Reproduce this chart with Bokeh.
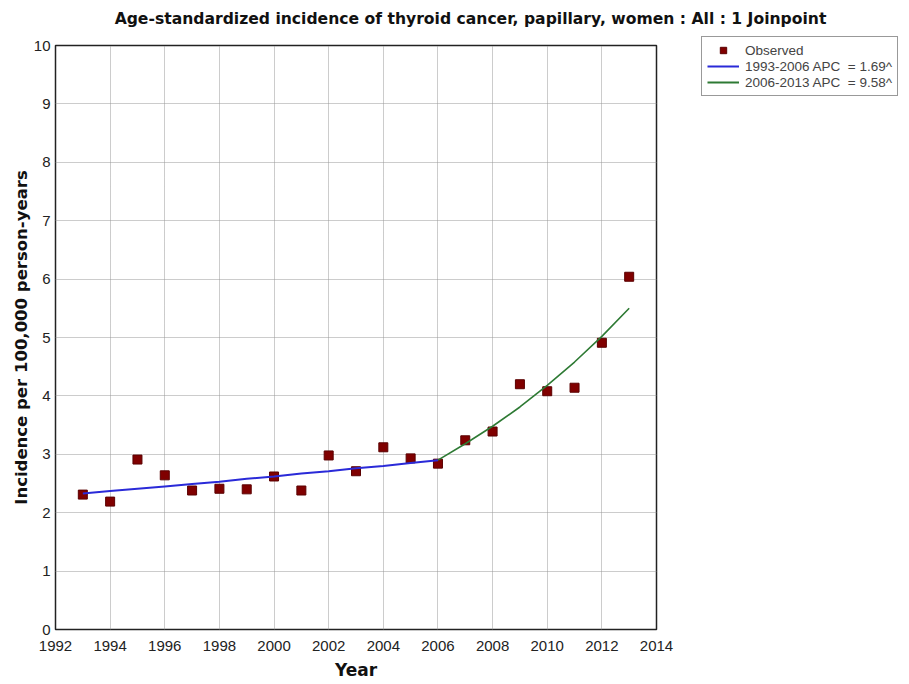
from bokeh.plotting import figure
from bokeh.models import Range1d, FixedTicker, Legend, LegendItem, Label
from bokeh.layouts import column, row
from bokeh.embed import file_html
from bokeh.resources import INLINE

years = [1993, 1994, 1995, 1996, 1997, 1998, 1999, 2000, 2001, 2002, 2003,
         2004, 2005, 2006, 2007, 2008, 2009, 2010, 2011, 2012, 2013]
observed = [2.31, 2.19, 2.91, 2.64, 2.38, 2.41, 2.40, 2.62, 2.38, 2.98, 2.71,
            3.12, 2.93, 2.84, 3.24, 3.39, 4.20, 4.08, 4.14, 4.91, 6.04]

seg1_years = [1993, 1994, 1995, 1996, 1997, 1998, 1999, 2000, 2001, 2002, 2003, 2004, 2005, 2006]
seg1_fit = [2.33, 2.37, 2.41, 2.45, 2.49, 2.53, 2.58, 2.62, 2.67, 2.71, 2.76, 2.80, 2.85, 2.90]
seg2_years = [2006, 2007, 2008, 2009, 2010, 2011, 2012, 2013]
seg2_fit = [2.90, 3.18, 3.48, 3.81, 4.18, 4.58, 5.02, 5.50]

x_ticks = [1992, 1994, 1996, 1998, 2000, 2002, 2004, 2006, 2008, 2010, 2012, 2014]
y_ticks = [0, 1, 2, 3, 4, 5, 6, 7, 8, 9, 10]

legend_labels = ["Observed", "1993-2006 APC  = 1.69^", "2006-2013 APC  = 9.58^"]
title_text = "Age-standardized incidence of thyroid cancer, papillary, women : All : 1 Joinpoint"

OBS_FILL, OBS_LINE = "#800000", "#5a0000"
SEG1_COLOR, SEG2_COLOR = "#2a2ad8", "#2e7a34"

# ---- title strip ----
TW, TH = 905, 28
tfig = figure(width=TW, height=TH, output_backend="svg", toolbar_location=None,
              x_range=Range1d(0, 1), y_range=Range1d(0, 1),
              x_axis_location=None, y_axis_location=None,
              min_border_left=0, min_border_right=0, min_border_top=0, min_border_bottom=0)
tfig.grid.visible = False
tfig.outline_line_color = None
tfig.add_layout(Label(x=470, y=10, x_units="screen", y_units="screen", text=title_text,
                      text_align="center", text_baseline="middle",
                      text_font="DejaVu Sans", text_font_size="15.6px",
                      text_font_style="bold", text_color="#111111"))

# ---- main chart ----
W, H = 690, 655
FL, FR, FT, FB = 55, 656, 45 - TH, 629 - TH
p = figure(width=W, height=H, output_backend="svg", toolbar_location=None,
           x_range=Range1d(1992, 2014), y_range=Range1d(0, 10),
           min_border_left=FL, min_border_right=W - FR,
           min_border_top=FT, min_border_bottom=H - FB)

p.scatter(years, observed, marker="square", size=9,
          fill_color=OBS_FILL, line_color=OBS_LINE)
p.line(seg1_years, seg1_fit, line_color=SEG1_COLOR, line_width=2)
p.line(seg2_years, seg2_fit, line_color=SEG2_COLOR, line_width=1.6)

p.xaxis.ticker = FixedTicker(ticks=x_ticks)
p.yaxis.ticker = FixedTicker(ticks=y_ticks)
for ax in (p.xaxis, p.yaxis):
    ax.axis_line_color = None
    ax.major_tick_line_color = None
    ax.minor_tick_line_color = None
    ax.major_tick_out = 0
    ax.major_tick_in = 0
    ax.minor_tick_out = 0
    ax.minor_tick_in = 0
    ax.major_label_text_font = "Liberation Sans"
    ax.major_label_text_font_size = "15px"
    ax.major_label_text_color = "#222222"
    ax.axis_label_text_font = "DejaVu Sans"
    ax.axis_label_text_font_style = "bold"
    ax.axis_label_text_color = "#111111"
p.xaxis.axis_label = "Year"
p.xaxis.axis_label_text_font_size = "17px"
p.xaxis.major_label_standoff = 11
p.xaxis.axis_label_standoff = 6
p.yaxis.axis_label = "Incidence per 100,000 person-years"
p.yaxis.axis_label_text_font_size = "16.5px"
p.yaxis.major_label_standoff = 5
p.yaxis.axis_label_standoff = 0

p.grid.grid_line_color = "#999999"
p.grid.grid_line_dash = "1 1"
p.grid.grid_line_width = 1
p.outline_line_color = "#222222"
p.outline_line_width = 1.5

# ---- legend panel (key glyphs sit outside its visible ranges) ----
GAP = 10
LW = TW - W - GAP
lfig = figure(width=LW, height=H, output_backend="svg", toolbar_location=None,
              x_range=Range1d(0, 1), y_range=Range1d(0, 1),
              x_axis_location=None, y_axis_location=None,
              min_border_left=0, min_border_right=0, min_border_top=0, min_border_bottom=0)
lfig.margin = (-10, 0, 0, GAP)
lfig.border_fill_color = None
lfig.background_fill_color = None
lfig.grid.visible = False
lfig.outline_line_color = None
k_obs = lfig.scatter(years[:1], observed[:1], marker="square", size=7,
                     fill_color=OBS_FILL, line_color=OBS_LINE)
k1 = lfig.line(seg1_years, seg1_fit, line_color=SEG1_COLOR, line_width=2)
k2 = lfig.line(seg2_years, seg2_fit, line_color=SEG2_COLOR, line_width=2)
legend = Legend(items=[LegendItem(label=legend_labels[0], renderers=[k_obs]),
                       LegendItem(label=legend_labels[1], renderers=[k1]),
                       LegendItem(label=legend_labels[2], renderers=[k2])],
                location="top_left", border_line_color="#333333", border_line_width=1.5,
                label_text_font="Liberation Sans", label_text_font_size="13.5px",
                label_height=16, glyph_height=16, glyph_width=32, spacing=0,
                padding=5, margin=1, label_standoff=6,
                background_fill_color="white", background_fill_alpha=1)
lfig.add_layout(legend, "center")

layout = column(tfig, row(p, lfig, spacing=0), spacing=0)
open("out.html", "w").write(file_html(layout, INLINE))
